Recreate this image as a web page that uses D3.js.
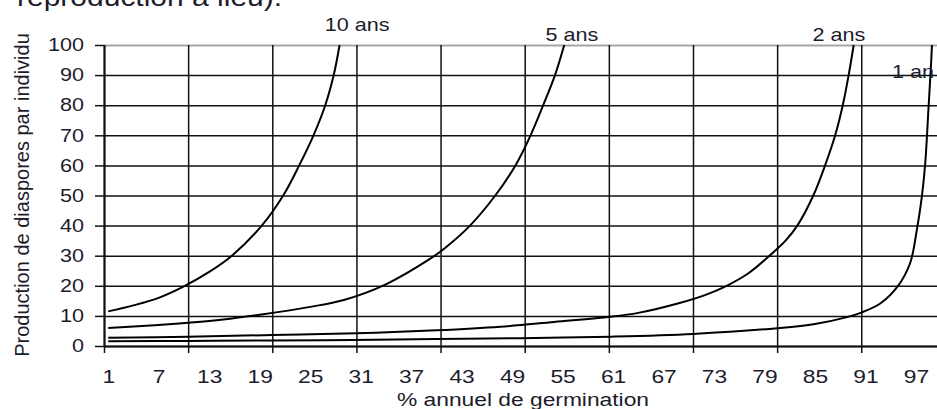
<!DOCTYPE html>
<html>
<head>
<meta charset="utf-8">
<script src="https://cdn.jsdelivr.net/npm/d3@7"></script>
<style>
  body { margin: 0; background: #fff; }
  svg { display: block; font-family: "Liberation Sans", Arial, sans-serif; }
  .wide { transform-box: fill-box; transform-origin: center; transform: scaleX(1.2); }
  .wide-end { transform-origin: right center; }
  .wide-start { transform-origin: left center; }
</style>
</head>
<body>
<svg id="chart" width="937" height="409"></svg>
<script>
// Data: % annual germination vs seed production needed
var seriesNames = ["10 ans", "5 ans", "2 ans", "1 an"];

var germ10 = [1, 4, 7, 10, 13, 15.7, 19.25, 21.8, 23.7, 25.4, 26.8, 27.8, 28.5];
var prod10 = [11.5, 13.5, 16, 19.8, 24.6, 30, 40, 50, 60, 70, 80, 90, 100];

var germ5 = [1, 7, 13, 19, 25, 29, 34, 39, 41, 44, 47, 49.4, 51.2, 52.7, 54.1, 55.2];
var prod5 = [6, 7, 8.3, 10.4, 13, 15.3, 20.5, 28.5, 32.5, 40, 50, 60, 70, 80, 90, 100];

var germ2 = [1, 10.5, 20.5, 30.5, 40, 47.6, 54, 60.7, 64, 68.8, 72, 74.5, 77, 80, 81.5, 82.9, 84.8, 86.2, 87.4, 88.3, 89, 89.6];
var prod2 = [2.7, 3.1, 3.65, 4.2, 5.2, 6.4, 8, 9.7, 11, 14.2, 17, 20, 24, 31, 35, 40, 50, 60, 70, 80, 90, 100];

var germ1 = [1, 10.5, 20, 30, 40, 50, 60.7, 70.5, 80.5, 85, 88.8, 90.5, 92.8, 94.8, 96.3, 97.1, 97.7, 98.1, 98.5, 98.8, 98.9];
var prod1 = [1.6, 1.7, 1.85, 2.0, 2.3, 2.6, 3.1, 4, 5.9, 7.3, 9.6, 11.1, 14.2, 19.7, 27.5, 38.5, 49.6, 60.7, 79.5, 94, 100];

// Tick labels
var xLabels = [1, 7, 13, 19, 25, 31, 37, 43, 49, 55, 61, 67, 73, 79, 85, 91, 97];
var xGrid = [0.5, 10.5, 20.5, 30.5, 40.5, 50.5, 60.5, 70.5, 80.5, 90.5];
var yTicks = [0, 10, 20, 30, 40, 50, 60, 70, 80, 90, 100];

// Curve label anchors (in data units)
var labelPct = [30.6, 56.1, 87.85, 96.65];
var labelProd = [104.5, 101.2, 101.2, 89];

var textColor = "#1c1c2c";

var svg = d3.select("#chart");

var x = d3.scaleLinear().domain([0.5, 99.5]).range([104, 937]);
var y = d3.scaleLinear().domain([0, 100]).range([346, 45]);

// Caption fragment at the top
svg.append("text")
  .attr("class", "wide wide-start")
  .attr("x", 17).attr("y", 6)
  .attr("font-size", 25)
  .attr("fill", textColor)
  .text("reproduction a lieu).");

// Horizontal grid
var hGrid = svg.append("g")
  .attr("transform", "translate(" + x(0.5) + ",0)")
  .call(d3.axisLeft(y).tickValues(yTicks).tickSize(-(x(99.5) - x(0.5))).tickFormat(""));
hGrid.select(".domain").remove();
hGrid.selectAll(".tick line")
  .attr("stroke", function(d) { return d === 100 ? "#a6a6a6" : "#111"; })
  .attr("stroke-width", function(d) { return d === 100 ? 2 : 1.5; });

// Vertical grid
var vGrid = svg.append("g")
  .attr("transform", "translate(0," + y(0) + ")")
  .call(d3.axisBottom(x).tickValues(xGrid).tickSize(-(y(0) - y(100))).tickFormat(""));
vGrid.select(".domain").remove();
vGrid.selectAll(".tick line").attr("stroke", "#111").attr("stroke-width", 1.5);

// Lines
var line = d3.line()
  .x(function(d) { return x(d[0]); })
  .y(function(d) { return y(d[1]); })
  .curve(d3.curveCatmullRom.alpha(0.5));

var series = [
  d3.zip(germ10, prod10),
  d3.zip(germ5, prod5),
  d3.zip(germ2, prod2),
  d3.zip(germ1, prod1)
];

svg.append("g").selectAll("path.curve")
  .data(series)
  .enter().append("path")
  .attr("class", "curve")
  .attr("d", line)
  .attr("fill", "none")
  .attr("stroke", "#000")
  .attr("stroke-width", 2);

// X axis: ticks below grid positions
var xTicks = svg.append("g")
  .attr("transform", "translate(0," + y(0) + ")")
  .call(d3.axisBottom(x).tickValues(xGrid).tickSize(7).tickSizeOuter(0).tickFormat(""));
xTicks.select(".domain").attr("stroke", "#111").attr("stroke-width", 2);
xTicks.selectAll(".tick line").attr("stroke", "#111").attr("stroke-width", 1.5);

// X axis labels
var xAxis = svg.append("g")
  .attr("transform", "translate(0," + y(0) + ")")
  .call(d3.axisBottom(x).tickValues(xLabels).tickSize(0));
xAxis.select(".domain").remove();
xAxis.selectAll(".tick text")
  .attr("class", "wide")
  .attr("y", 37).attr("dy", 0)
  .attr("font-size", 19)
  .attr("fill", textColor);

// Y axis
var yAxis = svg.append("g")
  .attr("transform", "translate(" + x(0.5) + ",0)")
  .call(d3.axisLeft(y).tickValues(yTicks).tickSize(9).tickSizeOuter(0).tickPadding(11));
yAxis.select(".domain").attr("stroke", "#111").attr("stroke-width", 2);
yAxis.selectAll(".tick line").attr("stroke", "#111").attr("stroke-width", 1.5);
yAxis.selectAll(".tick text")
  .attr("class", "wide wide-end")
  .attr("font-size", 18)
  .attr("fill", textColor);

// Axis titles
svg.append("text")
  .attr("class", "wide")
  .attr("x", 523).attr("y", 406)
  .attr("text-anchor", "middle")
  .attr("font-size", 19)
  .attr("fill", textColor)
  .text("% annuel de germination");

svg.append("text")
  .attr("transform", "translate(29,195) rotate(-90)")
  .attr("text-anchor", "middle")
  .attr("font-size", 20)
  .attr("fill", textColor)
  .text("Production de diaspores par individu");

// Curve labels
svg.append("g").selectAll("text.clabel")
  .data(seriesNames)
  .enter().append("text")
  .attr("class", "clabel wide")
  .attr("x", function(d, i) { return x(labelPct[i]); })
  .attr("y", function(d, i) { return y(labelProd[i]); })
  .attr("text-anchor", "middle")
  .attr("font-size", 18)
  .attr("fill", textColor)
  .text(function(d) { return d; });
</script>
</body>
</html>
